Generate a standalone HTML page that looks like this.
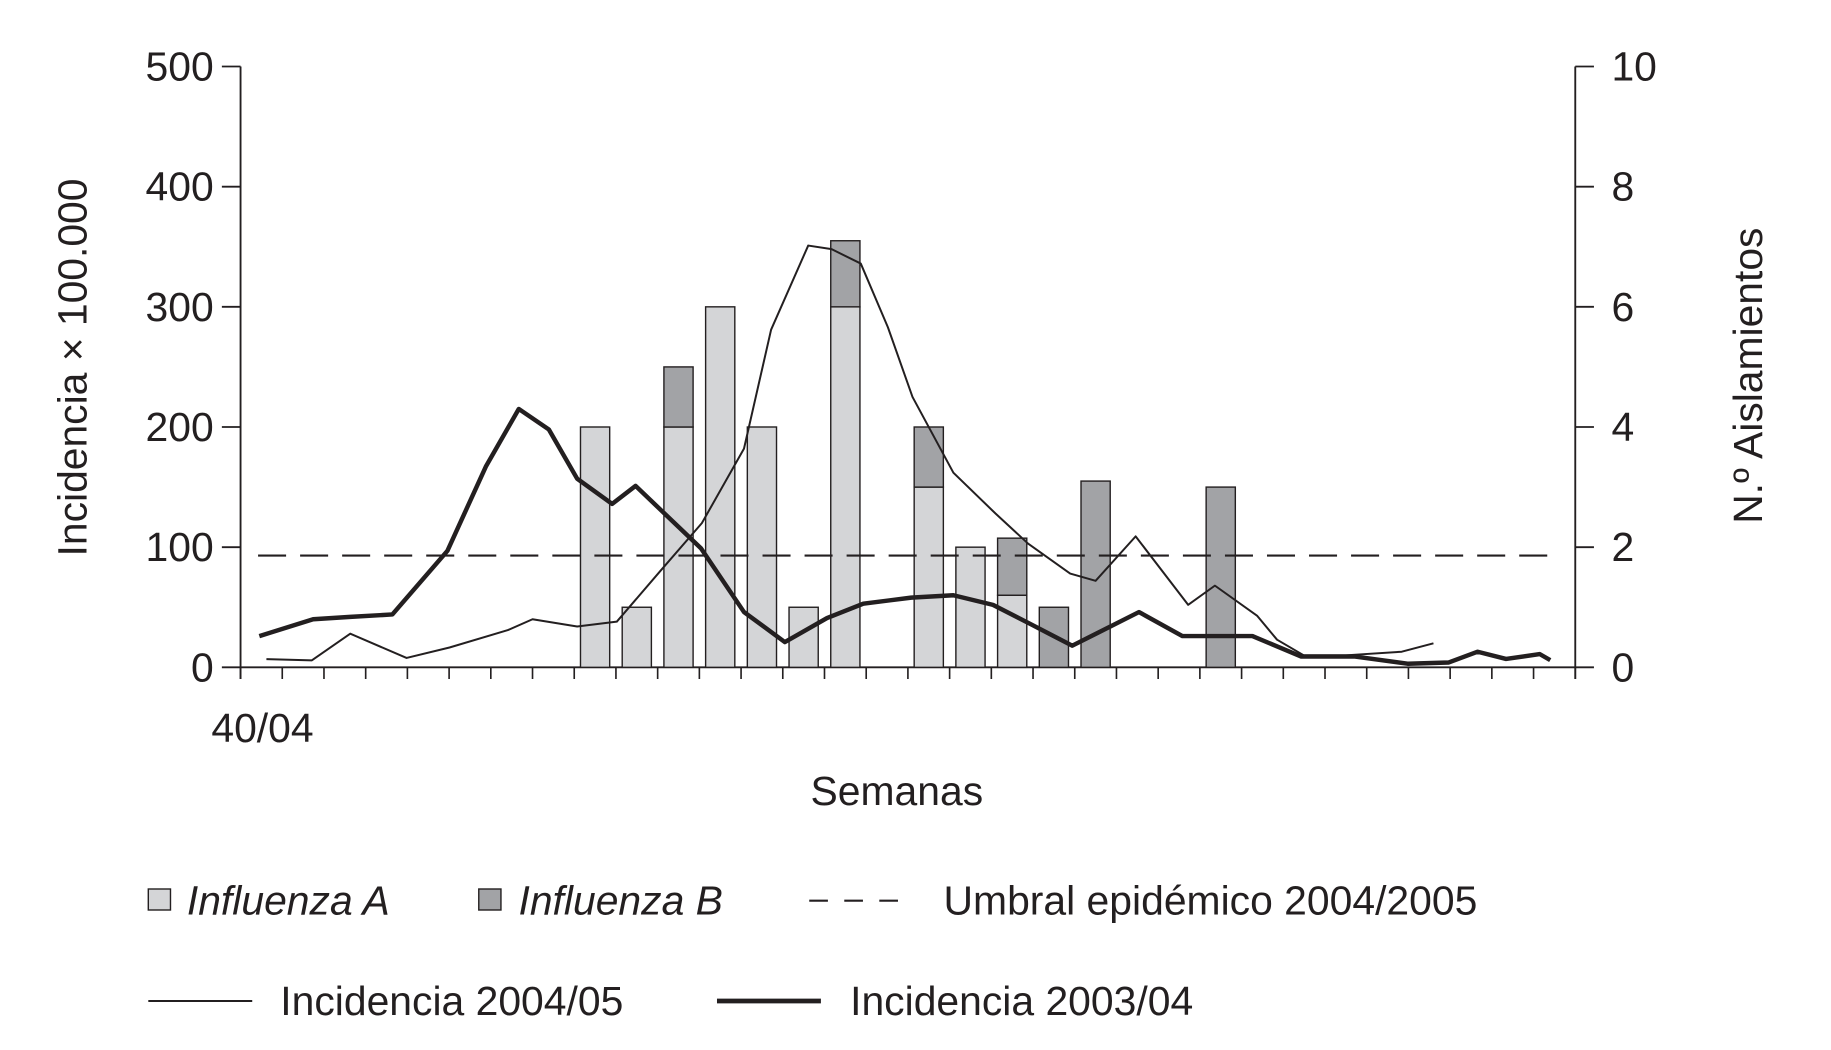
<!DOCTYPE html>
<html><head><meta charset="utf-8"><style>
html,body{margin:0;padding:0;background:#fff}
svg{display:block;font-family:"Liberation Sans",Arial,sans-serif;fill:#231f20}
</style></head><body>
<svg id="chart" width="1831" height="1050" viewBox="0 0 1568 900" preserveAspectRatio="none" xmlns="http://www.w3.org/2000/svg">
<g id="axes"></g><g id="bars"></g><g id="lines"></g>
<text transform="translate(74,315) rotate(-90)" text-anchor="middle" font-size="35">Incidencia × 100.000</text>
<text transform="translate(1509,322) rotate(-90)" text-anchor="middle" font-size="35">N.º Aislamientos</text>
<text x="181" y="636" font-size="35">40/04</text>
<text x="768" y="690" text-anchor="middle" font-size="35">Semanas</text>
<g font-size="35">
<rect x="127" y="762" width="19" height="18" fill="#d4d5d7" stroke="#231f20" stroke-width="1.2"/>
<text x="160" y="784" font-style="italic">Influenza A</text>
<rect x="410" y="762" width="19" height="18" fill="#a2a3a6" stroke="#231f20" stroke-width="1.2"/>
<text x="444" y="784" font-style="italic">Influenza B</text>
<line x1="693" y1="772" x2="782" y2="772" stroke="#231f20" stroke-width="1.8" stroke-dasharray="16,14"/>
<text x="808" y="784">Umbral epidémico 2004/2005</text>
<line x1="127" y1="858" x2="216" y2="858" stroke="#231f20" stroke-width="1.7"/>
<text x="240" y="870">Incidencia 2004/05</text>
<line x1="614" y1="858" x2="703" y2="858" stroke="#231f20" stroke-width="4"/>
<text x="728" y="870">Incidencia 2003/04</text>
</g>
</svg>
<script>
const yTicks=[0,100,200,300,400,500];
const y2Ticks=[0,2,4,6,8,10];
const barWeeks=[8,9,10,11,12,13,14,16,17,18,19,20,23];
const fluA=[4,1,4,6,4,1,6,3,2,1.2,0,0,0];
const fluB=[0,0,1,0,0,0,1.1,1,0,0.95,1,3.1,3];
const threshold=[93];
const weeks0405=[0.62,1.71,2.63,3.98,5.01,6.41,7.0,8.07,9.02,10.06,11.06,12.07,12.72,13.61,14.17,14.87,15.52,16.11,17.09,18.1,18.88,19.89,20.5,21.46,22.72,23.36,24.37,24.85,25.49,26.5,27.84,28.6];
const inc0405=[6.8,5.8,28,7.8,16.5,31,40,34,38,80,120,182,281,351,348,336,283,225,162,128,103,78,72,109,52,68,43,23,10,10,13,20];
const weeks0304=[0.45,1.74,2.63,3.64,4.96,5.88,6.67,7.39,8.07,8.91,9.47,11.04,12.07,13.05,14.06,14.93,16.08,17.09,18.04,18.94,19.94,21.54,22.58,24.26,25.43,26.72,27.98,28.96,29.66,30.34,31.15,31.4];
const inc0304=[26,40,42,44,97,167,215,198,157,136,151,99,46,21,41,53,58,60,52,36,18,46,26,26,9,9,3,4,13,7,11,6];
const NS='http://www.w3.org/2000/svg';
const X0=206,X1=1349,NW=32,Y0=572,Y1=57;
const xw=w=>X0+(X1-X0)*w/NW;
const yv=v=>Y0-(Y0-Y1)*v/500;
const yv2=v=>Y0-(Y0-Y1)*v/10;
function mk(p,tag,at){const e=document.createElementNS(NS,tag);for(const k in at)e.setAttribute(k,at[k]);p.appendChild(e);return e;}
const axes=document.getElementById('axes');
let e;
e=mk(axes,'line',{x1:X0,y1:Y1,x2:X0,y2:Y0+10,stroke:'#231f20','stroke-width':1.6});

e=mk(axes,'line',{x1:X1,y1:Y1,x2:X1,y2:Y0+10,stroke:'#231f20','stroke-width':1.6});

e=mk(axes,'line',{x1:X0,y1:Y0,x2:X1,y2:Y0,stroke:'#231f20','stroke-width':1.6});

yTicks.forEach(v=>{
 e=mk(axes,'line',{x1:190,y1:yv(v),x2:X0,y2:yv(v),stroke:'#231f20','stroke-width':1.6});
 
 e=mk(axes,'text',{x:183,y:yv(v)+12,'text-anchor':'end','font-size':35});e.textContent=v;
 
});
y2Ticks.forEach(v=>{
 e=mk(axes,'line',{x1:X1,y1:yv2(v),x2:X1+16,y2:yv2(v),stroke:'#231f20','stroke-width':1.6});
 
 e=mk(axes,'text',{x:1380,y:yv2(v)+12,'font-size':35});e.textContent=v;
 
});
for(let i=0;i<=NW;i++){
 e=mk(axes,'line',{x1:xw(i),y1:Y0,x2:xw(i),y2:Y0+10,stroke:'#231f20','stroke-width':1.4});
 
}
const bars=document.getElementById('bars');
const bw=(X1-X0)/NW, bwid=25;
barWeeks.forEach((w,i)=>{
 const bx=xw(w)+(bw-bwid)/2;
 if(fluA[i]>0){
  e=mk(bars,'rect',{x:bx,y:yv2(fluA[i]),width:bwid,height:Y0-yv2(fluA[i]),fill:'#d4d5d7',stroke:'#231f20','stroke-width':1.2});
  
 }
 if(fluB[i]>0){
  e=mk(bars,'rect',{x:bx,y:yv2(fluA[i]+fluB[i]),width:bwid,height:yv2(fluA[i])-yv2(fluA[i]+fluB[i]),fill:'#a2a3a6',stroke:'#231f20','stroke-width':1.2});
  
 }
});
const lines=document.getElementById('lines');
e=mk(lines,'line',{x1:X0+15,y1:yv(threshold[0]),x2:1335,y2:yv(threshold[0]),stroke:'#231f20','stroke-width':1.8,'stroke-dasharray':'24,12'});

e=mk(lines,'polyline',{points:weeks0405.map((w,i)=>xw(w)+','+yv(inc0405[i])).join(' '),fill:'none',stroke:'#231f20','stroke-width':1.7,'stroke-linejoin':'round'});

e=mk(lines,'polyline',{points:weeks0304.map((w,i)=>xw(w)+','+yv(inc0304[i])).join(' '),fill:'none',stroke:'#231f20','stroke-width':3.8,'stroke-linejoin':'round'});

</script>
</body></html>
